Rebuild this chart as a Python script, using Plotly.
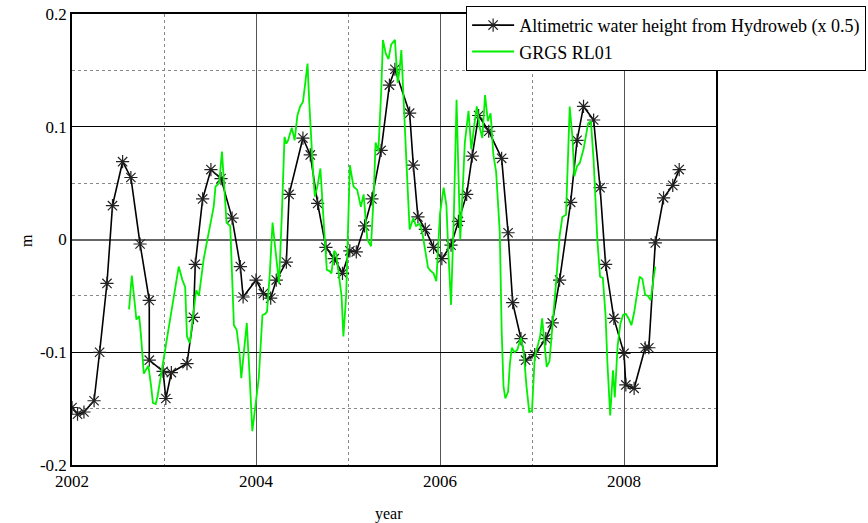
import plotly.graph_objects as go

# Altimetric water height from Hydroweb (x 0.5)
hydro_year = [2002.00, 2002.06, 2002.13, 2002.24, 2002.30, 2002.38, 2002.44, 2002.55, 2002.64,
              2002.74, 2002.84, 2002.84, 2002.99, 2003.02, 2003.08, 2003.25, 2003.32, 2003.34,
              2003.42, 2003.51, 2003.62, 2003.74, 2003.83, 2003.86, 2004.00, 2004.08, 2004.16,
              2004.22, 2004.33, 2004.36, 2004.51, 2004.59, 2004.67, 2004.76, 2004.85, 2004.94,
              2005.02, 2005.09, 2005.18, 2005.26, 2005.36, 2005.45, 2005.51, 2005.67, 2005.71,
              2005.76, 2005.84, 2005.93, 2006.02, 2006.12, 2006.20, 2006.29, 2006.35, 2006.42,
              2006.53, 2006.67, 2006.74, 2006.79, 2006.88, 2006.93, 2007.03, 2007.15, 2007.22,
              2007.30, 2007.42, 2007.49, 2007.56, 2007.67, 2007.74, 2007.80, 2007.89, 2008.00,
              2008.02, 2008.11, 2008.23, 2008.27, 2008.34, 2008.43, 2008.53, 2008.60]
hydro_height = [-0.149, -0.155, -0.153, -0.143, -0.100, -0.039, 0.030, 0.069, 0.055,
                -0.004, -0.054, -0.107, -0.117, -0.141, -0.118, -0.110, -0.069, -0.022,
                0.036, 0.062, 0.054, 0.019, -0.024, -0.051, -0.036, -0.048, -0.052,
                -0.036, -0.020, 0.040, 0.090, 0.075, 0.032, -0.007, -0.017, -0.030,
                -0.010, -0.011, 0.012, 0.036, 0.079, 0.137, 0.151, 0.112, 0.066,
                0.020, 0.009, -0.007, -0.017, -0.005, 0.016, 0.040, 0.074, 0.110,
                0.096, 0.072, 0.006, -0.056, -0.088, -0.107, -0.102, -0.088, -0.074,
                -0.036, 0.033, 0.088, 0.118, 0.106, 0.046, -0.022, -0.070, -0.101,
                -0.129, -0.132, -0.096, -0.096, -0.003, 0.037, 0.048, 0.062]

# GRGS RL01
grgs_year = [2002.62, 2002.65, 2002.68, 2002.70, 2002.73, 2002.75, 2002.78, 2002.81, 2002.83,
             2002.86, 2002.88, 2002.91, 2002.93, 2003.16, 2003.20, 2003.23, 2003.25, 2003.28,
             2003.31, 2003.35, 2003.38, 2003.41, 2003.43, 2003.46, 2003.49, 2003.52, 2003.54,
             2003.56, 2003.60, 2003.63, 2003.66, 2003.68, 2003.72, 2003.74, 2003.76, 2003.79,
             2003.82, 2003.84, 2003.87, 2003.90, 2003.93, 2003.96, 2003.99, 2004.03, 2004.07,
             2004.10, 2004.12, 2004.15, 2004.18, 2004.22, 2004.25, 2004.28, 2004.31, 2004.33,
             2004.35, 2004.37, 2004.39, 2004.42, 2004.45, 2004.48, 2004.51, 2004.53, 2004.56,
             2004.58, 2004.60, 2004.62, 2004.64, 2004.67, 2004.70, 2004.72, 2004.74, 2004.77,
             2004.80, 2004.82, 2004.85, 2004.87, 2004.90, 2004.93, 2004.95, 2004.98, 2005.02,
             2005.06, 2005.10, 2005.14, 2005.17, 2005.21, 2005.25, 2005.28, 2005.30, 2005.33,
             2005.36, 2005.38, 2005.41, 2005.44, 2005.47, 2005.51, 2005.54, 2005.56, 2005.58,
             2005.61, 2005.64, 2005.67, 2005.69, 2005.71, 2005.74, 2005.78, 2005.81, 2005.84,
             2005.87, 2005.90, 2005.93, 2005.96, 2006.00, 2006.04, 2006.07, 2006.09, 2006.12,
             2006.15, 2006.18, 2006.20, 2006.22, 2006.25, 2006.27, 2006.31, 2006.34, 2006.37,
             2006.40, 2006.43, 2006.46, 2006.49, 2006.52, 2006.55, 2006.58, 2006.61, 2006.65,
             2006.67, 2006.69, 2006.71, 2006.74, 2006.76, 2006.78, 2006.81, 2006.84, 2006.88,
             2006.91, 2006.94, 2006.97, 2007.00, 2007.03, 2007.06, 2007.09, 2007.11, 2007.14,
             2007.16, 2007.19, 2007.22, 2007.26, 2007.30, 2007.33, 2007.37, 2007.41, 2007.44,
             2007.46, 2007.49, 2007.52, 2007.56, 2007.61, 2007.64, 2007.67, 2007.71, 2007.74,
             2007.77, 2007.80, 2007.82, 2007.85, 2007.88, 2007.90, 2007.93, 2007.96, 2007.99,
             2008.02, 2008.05, 2008.08, 2008.11, 2008.14, 2008.17, 2008.20, 2008.23, 2008.26,
             2008.29, 2008.32, 2008.34]
grgs_height = [-0.062, -0.032, -0.055, -0.071, -0.068, -0.085, -0.119, -0.114, -0.112,
               -0.130, -0.145, -0.146, -0.139, -0.024, -0.036, -0.042, -0.086, -0.092,
               -0.070, -0.045, -0.050, -0.030, -0.018, -0.005, 0.008, 0.020, 0.029,
               0.047, 0.050, 0.078, 0.040, 0.015, 0.012, -0.030, -0.076, -0.080,
               -0.100, -0.123, -0.100, -0.074, -0.120, -0.170, -0.150, -0.123, -0.067,
               -0.066, -0.064, -0.030, 0.015, -0.018, -0.039, 0.020, 0.091, 0.085,
               0.088, 0.094, 0.099, 0.088, 0.110, 0.118, 0.122, 0.135, 0.156,
               0.120, 0.088, 0.060, 0.038, 0.048, 0.063, 0.030, 0.010, -0.027,
               -0.028, -0.030, -0.010, -0.012, -0.030, -0.050, -0.086, -0.050, 0.066,
               0.047, 0.044, 0.029, 0.040, 0.000, -0.006, 0.040, 0.086, 0.078,
               0.130, 0.177, 0.165, 0.160, 0.173, 0.177, 0.139, 0.150, 0.168,
               0.120, 0.060, 0.009, 0.015, 0.019, 0.012, 0.014, 0.005, -0.010,
               -0.025, -0.028, -0.030, -0.037, 0.023, 0.046, 0.030, -0.010, -0.058,
               0.020, 0.124, 0.060, 0.000, 0.050, 0.086, 0.114, 0.080, 0.100,
               0.118, 0.100, 0.090, 0.128, 0.105, 0.112, 0.075, 0.060, 0.006,
               -0.080, -0.130, -0.141, -0.135, -0.110, -0.096, -0.100, -0.098, -0.087,
               -0.100, -0.130, -0.153, -0.152, -0.104, -0.095, -0.085, -0.070, -0.095,
               -0.113, -0.108, -0.080, -0.040, 0.003, 0.020, 0.022, 0.118, 0.090,
               0.056, 0.065, 0.068, 0.080, 0.103, 0.105, 0.070, 0.000, -0.033,
               -0.034, -0.068, -0.110, -0.156, -0.116, -0.140, -0.095, -0.075, -0.067,
               -0.066, -0.070, -0.076, -0.065, -0.050, -0.033, -0.035, -0.049, -0.050,
               -0.054, -0.035, -0.024]

x_ticks = [2002, 2004, 2006, 2008]
x_ticktext = ["2002", "2004", "2006", "2008"]
y_ticks = [-0.2, -0.1, 0, 0.1, 0.2]
y_ticktext = ["-0.2", "-0.1", "0", "0.1", "0.2"]

FONT = "Liberation Serif"

fig = go.Figure()
fig.add_trace(go.Scatter(
    x=hydro_year, y=hydro_height, mode="lines+markers",
    name="Altimetric water height from Hydroweb (x 0.5)",
    line=dict(color="black", width=1.6),
    marker=dict(symbol="asterisk-open", size=11, color="#222222",
                line=dict(color="#222222", width=1.2)),
))
fig.add_trace(go.Scatter(
    x=grgs_year, y=grgs_height, mode="lines", name="GRGS RL01",
    line=dict(color="#00f000", width=1.8),
))

fig.update_layout(
    width=868, height=523,
    margin=dict(l=72, r=152, t=14, b=58, autoexpand=False),
    paper_bgcolor="white", plot_bgcolor="white",
    font=dict(family=FONT, size=16, color="black"),
    showlegend=True,
    legend=dict(
        x=0.612, y=1.018, xanchor="left", yanchor="top",
        bgcolor="white", bordercolor="black", borderwidth=1,
        font=dict(family=FONT, size=18, color="black"),
        tracegroupgap=0, itemwidth=42,
    ),
    xaxis=dict(
        range=[2002, 2009], tickvals=x_ticks, ticktext=x_ticktext,
        showline=True, linecolor="black", linewidth=1.5, mirror=True,
        showgrid=True, gridcolor="#555555", gridwidth=1,
        ticks="", zeroline=False, automargin=False,
        tickfont=dict(family=FONT, size=17),
        minor=dict(tickvals=[2003, 2005, 2007], showgrid=True,
                   gridcolor="#888888", griddash="dot", gridwidth=1),
    ),
    yaxis=dict(
        range=[-0.2, 0.2], tickvals=y_ticks, ticktext=y_ticktext,
        showline=True, linecolor="black", linewidth=1.5, mirror=True,
        showgrid=True, gridcolor="black", gridwidth=1,
        zeroline=True, zerolinecolor="#666666", zerolinewidth=2,
        ticks="", automargin=False, tickfont=dict(family=FONT, size=17),
        minor=dict(tickvals=[-0.15, -0.05, 0.05, 0.15], showgrid=True,
                   gridcolor="#888888", griddash="dot", gridwidth=1),
    ),
    annotations=[
        dict(text="year", xref="paper", yref="paper", x=0.492, y=-0.1086,
             xanchor="center", yanchor="middle", showarrow=False,
             font=dict(family=FONT, size=16)),
        dict(text="m", xref="paper", yref="paper", x=-0.0699, y=0.499,
             xanchor="center", yanchor="middle", showarrow=False, textangle=-90,
             font=dict(family=FONT, size=16)),
    ],
)

fig.write_html("out.html",
               config={"displayModeBar": False},
               post_script="document.body.style.margin='0';document.body.style.overflow='hidden';")
